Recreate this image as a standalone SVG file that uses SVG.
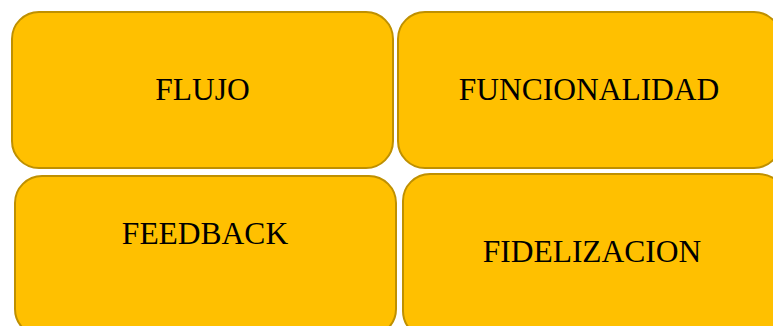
<svg xmlns="http://www.w3.org/2000/svg" width="773" height="326" viewBox="0 0 773 326">
<style>
.box{fill:#FFC000;stroke:#BF9000;stroke-width:2}
.lbl{font-family:"Liberation Serif","Times New Roman",serif;font-size:31.5px;fill:#000;text-anchor:middle}
</style>
<rect width="773" height="326" fill="#FFFFFF"/>
<g id="node-flujo">
<rect class="box" x="12" y="12" width="381" height="156" rx="27" ry="27"/>
<text class="lbl" x="202.5" y="100">FLUJO</text>
</g>
<g id="node-funcionalidad">
<rect class="box" x="398" y="12" width="383" height="156" rx="27" ry="27"/>
<text class="lbl" x="589" y="100">FUNCIONALIDAD</text>
</g>
<g id="node-feedback">
<rect class="box" x="15" y="176" width="381" height="160" rx="27" ry="27"/>
<text class="lbl" x="205" y="244">FEEDBACK</text>
</g>
<g id="node-fidelizacion">
<rect class="box" x="403" y="174" width="383" height="164" rx="27" ry="27"/>
<text class="lbl" x="592" y="262">FIDELIZACION</text>
</g>
<g id="connectors"></g>
</svg>
